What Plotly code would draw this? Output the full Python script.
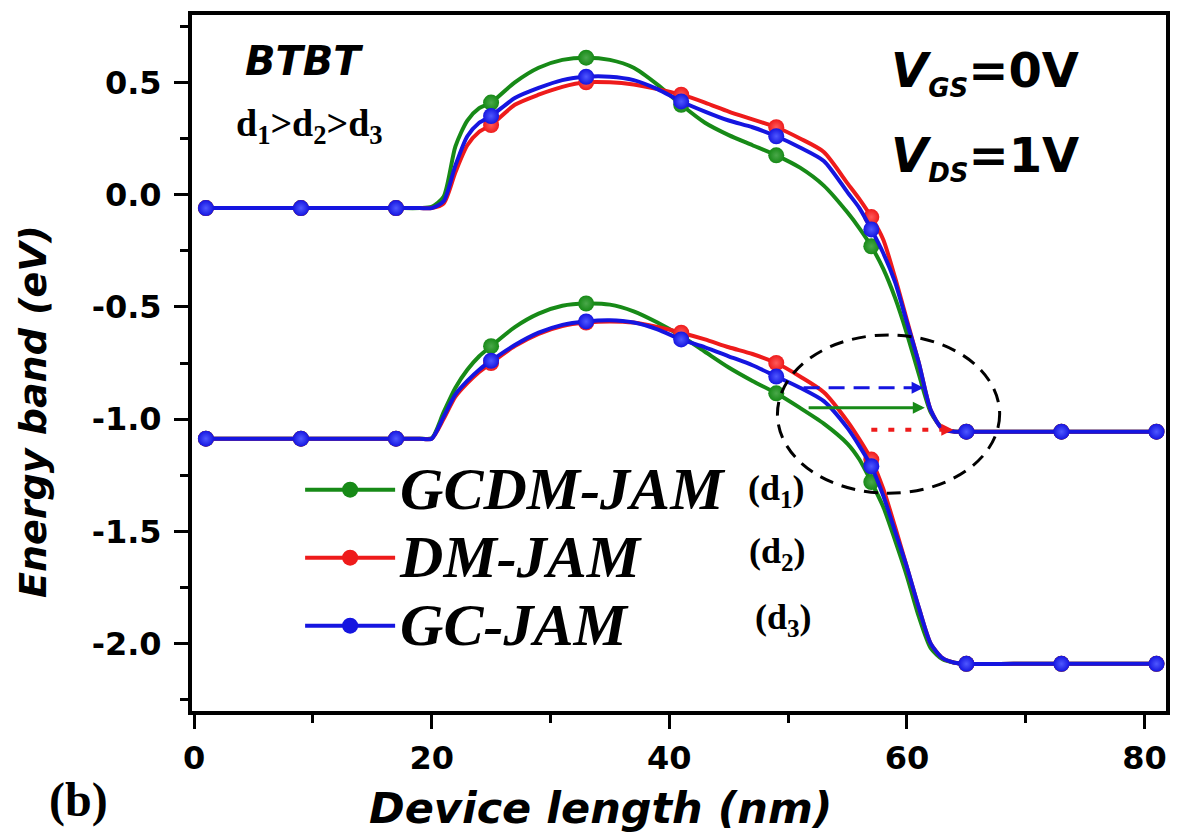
import plotly.graph_objects as go

# Position along the device (nm) at which the band edges are sampled
x_nm = [1, 5, 9, 13, 17, 19, 20, 21, 22, 23, 24, 25, 27, 29, 31, 33, 35, 37, 39, 41,
        43, 45, 47, 49, 51, 53, 55, 56, 57, 58, 59, 60, 61, 62, 63, 64, 65, 69, 73, 77, 81]

# Positions that carry a symbol on each curve
marker_x = [1, 9, 17, 25, 33, 41, 49, 57, 65, 73, 81]

# Conduction-band edge (eV)
ec_gcdm = [-0.06, -0.06, -0.06, -0.06, -0.06, -0.06, -0.055, -0.01, 0.215, 0.33, 0.385, 0.41,
           0.50, 0.565, 0.60, 0.61, 0.60, 0.565, 0.49, 0.40,
           0.32, 0.265, 0.22, 0.175, 0.12, 0.04, -0.08, -0.15, -0.23, -0.33, -0.46, -0.62,
           -0.80, -0.97, -1.04, -1.055, -1.056, -1.056, -1.056, -1.056, -1.056]
ec_dm = [-0.06, -0.06, -0.06, -0.06, -0.06, -0.06, -0.06, -0.04, 0.10, 0.22, 0.28, 0.31,
         0.40, 0.445, 0.48, 0.50, 0.50, 0.49, 0.47, 0.445,
         0.41, 0.37, 0.335, 0.30, 0.25, 0.19, 0.05, -0.02, -0.10, -0.20, -0.37, -0.56,
         -0.75, -0.96, -1.045, -1.056, -1.056, -1.056, -1.056, -1.056, -1.056]
ec_gc = [-0.06, -0.06, -0.06, -0.06, -0.06, -0.06, -0.06, -0.03, 0.13, 0.26, 0.32, 0.35,
         0.43, 0.475, 0.51, 0.525, 0.525, 0.51, 0.47, 0.415,
         0.37, 0.33, 0.30, 0.26, 0.21, 0.15, 0.01, -0.06, -0.155, -0.26, -0.39, -0.57,
         -0.75, -0.96, -1.045, -1.056, -1.056, -1.056, -1.056, -1.056, -1.056]

# Valence-band edge (eV)
ev_gcdm = [-1.087, -1.087, -1.087, -1.087, -1.087, -1.087, -1.085, -0.97, -0.86, -0.78, -0.72, -0.675,
           -0.59, -0.53, -0.495, -0.485, -0.49, -0.52, -0.57, -0.63,
           -0.70, -0.77, -0.83, -0.885, -0.95, -1.02, -1.11, -1.18, -1.28, -1.39, -1.54, -1.70,
           -1.88, -2.02, -2.07, -2.085, -2.09, -2.09, -2.09, -2.09, -2.09]
ev_dm = [-1.087, -1.087, -1.087, -1.087, -1.087, -1.087, -1.087, -1.00, -0.90, -0.84, -0.79, -0.75,
         -0.675, -0.62, -0.585, -0.57, -0.565, -0.57, -0.59, -0.615,
         -0.645, -0.68, -0.71, -0.75, -0.81, -0.88, -1.01, -1.09, -1.18, -1.31, -1.48, -1.66,
         -1.84, -2.00, -2.065, -2.085, -2.09, -2.09, -2.09, -2.09, -2.09]
ev_gc = [-1.087, -1.087, -1.087, -1.087, -1.087, -1.087, -1.087, -0.99, -0.89, -0.83, -0.78, -0.74,
         -0.67, -0.615, -0.58, -0.565, -0.56, -0.57, -0.60, -0.645,
         -0.68, -0.72, -0.76, -0.81, -0.86, -0.92, -1.04, -1.12, -1.21, -1.34, -1.50, -1.66,
         -1.84, -2.00, -2.065, -2.085, -2.09, -2.09, -2.09, -2.09, -2.09]

series_names = ["GCDM-JAM", "DM-JAM", "GC-JAM"]
series_tags = ["1", "2", "3"]
series_colors = ["#178a17", "#ee1b1b", "#1515e0"]
series_glow = ["#4aa84a", "#ff5a5a", "#4f58ff"]

x_ticks = [0, 20, 40, 60, 80]
x_ticklabels = ["0", "20", "40", "60", "80"]
y_ticks = [0.5, 0.0, -0.5, -1.0, -1.5, -2.0]
y_ticklabels = ["0.5", "0.0", "-0.5", "-1.0", "-1.5", "-2.0"]

SANS = "DejaVu Sans"
SERIF = "Liberation Serif"

fig = go.Figure()

bands = [(ec_gcdm, ev_gcdm), (ec_dm, ev_dm), (ec_gc, ev_gc)]
mk_idx = [x_nm.index(v) for v in marker_x]
for name, color, glow, (ec, ev) in zip(series_names, series_colors, series_glow, bands):
    # both band edges as one smoothed polyline with a gap between them
    fig.add_trace(go.Scatter(
        x=x_nm + [None] + x_nm, y=ec + [None] + ev, mode="lines",
        line=dict(color=color, width=4, shape="spline", smoothing=0.7),
        showlegend=False, hoverinfo="skip"))
    mx = [x_nm[i] for i in mk_idx]
    fig.add_trace(go.Scatter(
        x=mx + mx, y=[ec[i] for i in mk_idx] + [ev[i] for i in mk_idx], mode="markers",
        marker=dict(size=16, color=color, line=dict(width=0),
                    gradient=dict(type="radial", color=glow)),
        showlegend=False, hoverinfo="skip"))

# legend entries (line + symbol)
for name, color in zip(series_names, series_colors):
    fig.add_trace(go.Scatter(
        x=[None], y=[None], mode="lines+markers",
        name='<span style="font-size:60px">%s</span>' % name,
        line=dict(color=color, width=4),
        marker=dict(size=16, color=color)))

axis_common = dict(
    ticks="outside", ticklen=14, tickwidth=3, tickcolor="black",
    showline=True, linewidth=4, linecolor="black", mirror=True,
    showgrid=False, zeroline=False,
    tickfont=dict(family=SANS, size=32, color="black", weight="bold"),
)

fig.update_layout(
    width=1177, height=837,
    margin=dict(l=192, r=7, t=15, b=126),
    plot_bgcolor="white", paper_bgcolor="white",
    showlegend=True,
    legend=dict(
        x=0.111, y=0.374, xanchor="left", yanchor="top",
        bgcolor="rgba(0,0,0,0)", borderwidth=0, itemwidth=90, tracegroupgap=0,
        font=dict(family=SERIF, size=50, color="black", weight="bold", style="italic"),
    ),
    xaxis=dict(
        range=[-0.17, 81.8], tickmode="array", tickvals=x_ticks, ticktext=x_ticklabels,
        minor=dict(dtick=10, tick0=0, ticks="outside", ticklen=8, tickwidth=3, tickcolor="black"),
        ticklabelstandoff=2, **axis_common),
    yaxis=dict(
        range=[-2.30, 0.80], tickmode="array", tickvals=y_ticks, ticktext=y_ticklabels,
        minor=dict(dtick=0.25, tick0=0, ticks="outside", ticklen=8, tickwidth=3, tickcolor="black"),
        ticklabelstandoff=6, **axis_common),
)

annotations = []


def label(text, x, y, size, family, italic=False, bold=True, xanchor="center", **kw):
    annotations.append(dict(
        text=text, x=x, y=y, xref="paper", yref="paper", showarrow=False,
        xanchor=xanchor, yanchor="middle",
        font=dict(family=family, size=size, color="black",
                  weight="bold" if bold else "normal",
                  style="italic" if italic else "normal"),
        **kw))


label("Energy band (eV)", -0.164, 0.43, 38, SANS, italic=True, textangle=-90)
label("Device length (nm)", 0.419, -0.139, 43, SANS, italic=True)
label("BTBT", 0.1155, 0.934, 40, SANS, italic=True)
label("d<sub>1</sub>&gt;d<sub>2</sub>&gt;d<sub>3</sub>", 0.121, 0.841, 38, SERIF)
label('<i>V</i><sub><i><span style="font-size:26px">GS</span></i></sub>=0V', 0.716, 0.917, 48, SANS,
      xanchor="left")
label('<i>V</i><sub><i><span style="font-size:26px">DS</span></i></sub>=1V', 0.716, 0.795, 48, SANS,
      xanchor="left")
label("(b)", -0.1166, -0.128, 48, SERIF)
for tag, xp, yp in zip(series_tags, [0.600, 0.601, 0.607], [0.3175, 0.227, 0.131]):
    label("(d<sub>%s</sub>)" % tag, xp, yp, 36, SERIF)

# arrow heads and the solid tunnelling arrow
annotations.append(dict(x=61.4, y=-0.86, ax=60.4, ay=-0.86, xref="x", yref="y", axref="x", ayref="y",
                        text="", showarrow=True, arrowhead=2, arrowsize=0.8, arrowwidth=3,
                        arrowcolor=series_colors[2]))
annotations.append(dict(x=61.5, y=-0.949, ax=51.6, ay=-0.949, xref="x", yref="y", axref="x", ayref="y",
                        text="", showarrow=True, arrowhead=2, arrowsize=0.8, arrowwidth=3,
                        arrowcolor=series_colors[0]))
annotations.append(dict(x=63.9, y=-1.047, ax=62.9, ay=-1.047, xref="x", yref="y", axref="x", ayref="y",
                        text="", showarrow=True, arrowhead=2, arrowsize=0.8, arrowwidth=3,
                        arrowcolor=series_colors[1]))
fig.update_layout(annotations=annotations)

fig.add_shape(type="circle", xref="x", yref="y", x0=49.1, x1=67.8, y0=-1.33, y1=-0.625,
              line=dict(color="black", width=3, dash="14px,9px"))
fig.add_shape(type="line", xref="x", yref="y", x0=51.3, x1=60.8, y0=-0.86, y1=-0.86,
              line=dict(color=series_colors[2], width=3, dash="16px,9px"))
fig.add_shape(type="line", xref="x", yref="y", x0=57.0, x1=63.2, y0=-1.047, y1=-1.047,
              line=dict(color=series_colors[1], width=4, dash="6px,11px"))

fig.write_html("out.html")
